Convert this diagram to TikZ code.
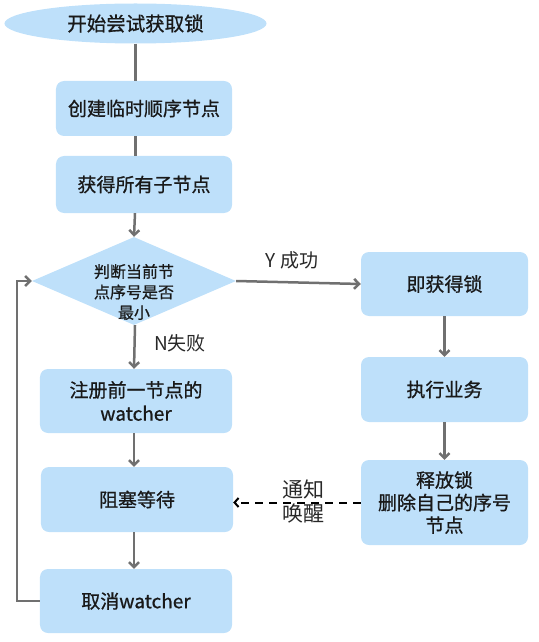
\documentclass[tikz,border=0pt]{standalone}
\usepackage{fontspec}
\setmainfont{Noto Sans CJK SC}
\newfontfamily\boxfont[FakeBold=0.8]{Noto Sans CJK SC}
\usetikzlibrary{shapes.geometric,arrows.meta}
\definecolor{boxblue}{RGB}{190,224,250}
\definecolor{arrowgray}{RGB}{112,112,112}
\definecolor{txt}{RGB}{25,25,25}
\definecolor{lbl}{RGB}{40,40,40}
\begin{document}
\begin{tikzpicture}[x=1bp,y=-1bp,
  box/.style={fill=boxblue, rounded corners=8bp, minimum width=192bp, align=center, inner sep=0pt,
    text=txt, font=\boxfont\fontsize{19bp}{23.5bp}\selectfont},
  flow/.style={draw=arrowgray, line width=2.5bp, -{Straight Barb[length=5bp,width=10bp]}},
  plain/.style={draw=arrowgray, line width=2.5bp},
  dasharrow/.style={draw=black, line width=2bp, dash pattern=on 8bp off 6bp, -{Straight Barb[length=4bp,width=9bp]}},
  lab/.style={text=lbl, align=center, inner sep=0pt, font=\fontsize{19bp}{23bp}\selectfont}]
\useasboundingbox (0,0) rectangle (539,642);
% nodes
\node[ellipse, fill=boxblue, minimum width=262bp, minimum height=40bp, inner sep=0pt, text=txt,
  font=\boxfont\fontsize{19.5bp}{23bp}\selectfont] (start) at (135.5,23.5) {开始尝试获取锁};
\node[box, minimum width=176bp, minimum height=55bp] (b1) at (144,108.5) {创建临时顺序节点};
\node[box, minimum width=176bp, minimum height=57bp] (b2) at (144,184.5) {获得所有子节点};
\node[diamond, fill=boxblue, minimum width=204bp, minimum height=88bp, inner sep=0pt] (d) at (134,281) {};
\node[align=center, inner sep=0pt, text=txt, font=\boxfont\fontsize{16bp}{20.5bp}\selectfont] (dt) at (134,292) {判断当前节\\点序号是否\\最小};
\node[box, minimum height=64bp] (b3) at (136,401) {注册前一节点的\\watcher};
\node[box, minimum height=65bp] (b4) at (137,499.5) {阻塞等待};
\node[box, minimum height=64bp] (b5) at (136,601) {取消watcher};
\node[box, minimum width=167bp, minimum height=64bp] (r1) at (444.5,284) {即获得锁};
\node[box, minimum width=167bp, minimum height=65bp] (r2) at (444.5,389.5) {执行业务};
\node[box, minimum width=167bp, minimum height=85bp, font=\boxfont\fontsize{19bp}{22.5bp}\selectfont] (r3) at (444.5,502.5) {释放锁\\删除自己的序号\\节点};
% labels
\node[lab] (ly) at (292,260) {Y 成功};
\node[lab] (ln) at (180,343) {N失败};
\node[lab, font=\fontsize{21bp}{23.5bp}\selectfont] (lw) at (303,501.5) {通知\\唤醒};
\coordinate (loopx) at (17,0);
% connectors
\draw[plain] (start.south) -- (start.south |- b1.north);
\draw[plain] (b1.south -| start.south) -- (b2.north -| start.south);
\draw[flow] (b2.south -| d.north) ++(1,0) -- (d.north);
\draw[flow] (d.south) ++(1,0) -- (b3.north -| d.south);
\draw[flow] (b3.south -| d.south) -- (b4.north -| d.south);
\draw[flow] (b4.south -| d.south) -- (b5.north -| d.south);
\draw[flow] (b5.west) -- (b5.west -| loopx) |- (d.west);
\draw[flow] (d.east) -- (r1.west);
\draw[flow] (r1.south) -- (r2.north);
\draw[flow] (r2.south) -- (r3.north);
\draw[dasharrow] (r3.west) -- (r3.west -| b4.east);
\end{tikzpicture}
\end{document}
